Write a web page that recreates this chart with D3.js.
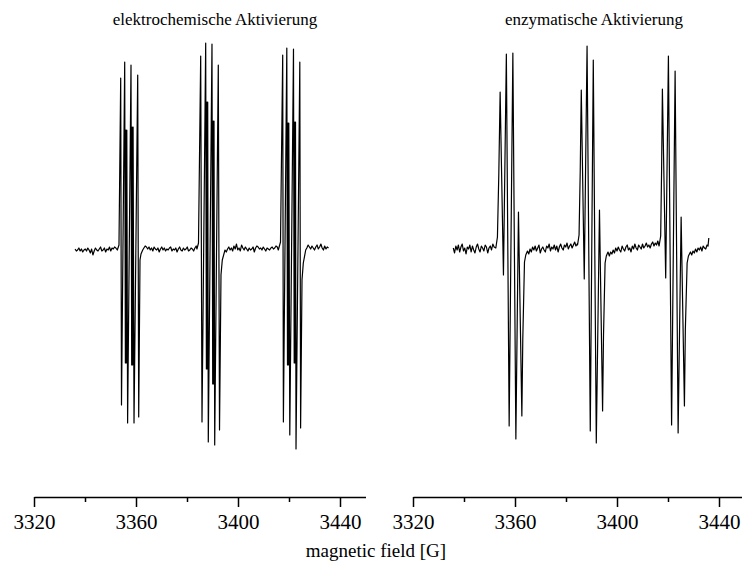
<!DOCTYPE html>
<html>
<head>
<meta charset="utf-8">
<script src="https://cdn.jsdelivr.net/npm/d3@7"></script>
<style>
  body { margin: 0; background: #fff; }
  svg { display: block; }
  text { font-family: "Liberation Serif", "Times New Roman", serif; fill: #000; }
</style>
</head>
<body>
<svg id="chart" width="742" height="565"></svg>
<script>
const panelTitles = ["elektrochemische Aktivierung", "enzymatische Aktivierung"];
const axisTitle = "magnetic field [G]";
const fieldDomain = [3320, 3450];
const majorTicks = [3320, 3360, 3400, 3440];
const minorTicks = [3340, 3380, 3420];
const sampleStep = 0.5; // G between baseline samples

const leftBaseline = [
    { start: 3336.1, values: [1, -1, 0, 2, -1, 1, -2, 0, 1, -1, 2, 0, -3, 1, -5, -1, 2, 0, -1, 1, 3, -1, 0, 2, -2, 1, 0, 3, -1, 2, 1, 3, 2] },
    { start: 3363.1, values: [2, 4, 3, 1, 3, 0, 2, -1, 3, 1, 0, 2, -2, 1, 3, 0, 2, -1, 1, 0, 2, 3, -1, 1, 0, 2, -2, 1, 3, 0, -1, 2, 0, 1, 3, -1, 0, 2, 1, -1, 2, 4] },
    { start: 3395.4, values: [-2, 1, 3, 0, 2, -1, 4, 1, 6, 0, 2, -1, 5, 2, 0, 3, 1, -1, 2, 0, 1, 3, -2, 2, 4, 3, 1, 2, 0, 3, 1, -1, 2, 1, 0, 2, 3, 1, 2, 4, 3] },
    { start: 3427.0, values: [2, 5, 3, 1, 4, 2, 0, 3, 5, 1, 3, 6, 2, 0, 4, 1, 3, 2] }
];

// hyperfine lines, [field G, intensity]
const leftLines = [
    [3352.67, 0], [3353.33, 5], [3354.00, 172], [3354.31, -155], [3355.57, 188], [3355.84, -113], [3355.99, 120],
    [3356.18, -113], [3356.39, 120], [3356.71, -173], [3358.04, 185], [3358.31, -115], [3358.47, 123], [3358.67, -115],
    [3358.86, 123], [3359.22, -173], [3360.67, 175], [3361.06, -167], [3361.57, -10], [3361.96, -4], [3362.63, 0],

    [3383.90, 1], [3384.51, 7], [3385.37, 194], [3385.88, -172], [3387.33, 207], [3387.61, -119], [3387.76, 148],
    [3387.96, -119], [3388.12, 148], [3388.35, -192], [3389.80, 206], [3390.08, -134], [3390.24, 129], [3390.43, -134],
    [3390.59, 129], [3390.86, -195], [3392.27, 185], [3392.75, -180], [3393.33, -25], [3393.84, -10], [3394.90, 0],

    [3415.80, 0], [3416.67, 8], [3417.53, 195], [3417.80, -172], [3419.14, 202], [3419.41, -115], [3419.57, 127],
    [3419.76, -115], [3419.92, 127], [3420.31, -185], [3421.76, 201], [3422.04, -113], [3422.20, 128], [3422.39, -113],
    [3422.55, 128], [3422.75, -199], [3424.24, 188], [3424.55, -178], [3425.10, -30], [3425.61, -13], [3426.55, 0]
];

const rightBaseline = [
    { start: 3335.8, values: [2, -3, 4, 0, 5, -2, 3, 6, -1, 2, -4, 3, 1, 5, -2, 4, 0, -3, 3, 6, 1, -2, 4, 2, -1, 5, 3, -3, 2, 4, 0, 6, 3] },
    { start: 3365.4, values: [-4, 1, -2, 3, 0, 4, -1, 2, 5, -3, 1, 3, 0, -2, 4, 2, 6, -1, 3, 1, 5, 0, 4, -2, 3, 6, 2, 0, 5, 3, 7, 1, 4, 6, 2, 5, 8, 4, 6] },
    { start: 3397.0, values: [-6, -2, -4, 0, -3, 2, -1, 3, 0, -2, 4, 1, -1, 3, 5, 0, 2, -2, 4, 1, 6, 2, 0, 5, 3, 1, 6, 2, 4, 7, 3, 5, 2, 6, 8, 4, 7, 5, 9] },
    { start: 3429.3, values: [-5, -1, -3, 1, -2, 2, 0, 3, -1, 4, 2, 1, 5] }
];

const rightLines = [
    [3352.48, 2], [3353.11, 13], [3353.66, 77], [3354.17, 158], [3355.47, -25], [3356.61, 196], [3357.71, -176],
    [3359.16, 197], [3360.34, -189], [3361.36, 38], [3362.69, -166], [3363.05, -90], [3363.72, -12], [3364.23, -5], [3364.89, -1],

    [3384.53, 5], [3385.12, 15], [3385.59, 80], [3385.99, 160], [3387.16, -29], [3388.26, 204], [3389.52, -181],
    [3390.70, 190], [3391.88, -193], [3393.13, 40], [3394.35, -161], [3394.71, -85], [3395.33, -13], [3395.81, -6], [3396.47, -2],

    [3416.50, 4], [3417.13, 14], [3417.49, 80], [3417.80, 161], [3419.10, -28], [3420.16, 194], [3421.41, -175],
    [3422.79, 179], [3423.97, -183], [3425.15, 33], [3426.44, -156], [3426.80, -80], [3427.50, -13], [3428.01, -6], [3428.80, -2],
    [3435.70, 4], [3436.00, 12]
];

document.addEventListener('DOMContentLoaded', function() {
    const svg = d3.select("#chart");

    const axisY = 497;
    const panelWidth = 331.5;
    const y = d3.scaleLinear().domain([-215, 215]).range([465, 35]);

    const panels = [
        { title: panelTitles[0], base: leftBaseline, lines: leftLines, left: 34, titleX: 215 },
        { title: panelTitles[1], base: rightBaseline, lines: rightLines, left: 413, titleX: 594 }
    ];

    function toSeries(base, lines) {
        const pts = [];
        base.forEach(seg => seg.values.forEach((v, i) => pts.push([seg.start + i * sampleStep, v])));
        lines.forEach(p => pts.push(p));
        return pts.sort((a, b) => a[0] - b[0]);
    }

    panels.forEach(p => {
        const x = d3.scaleLinear().domain(fieldDomain).range([p.left, p.left + panelWidth]);

        const line = d3.line().x(d => x(d[0])).y(d => y(d[1]));

        svg.append("path")
            .datum(toSeries(p.base, p.lines))
            .attr("fill", "none")
            .attr("stroke", "#000")
            .attr("stroke-width", 1.2)
            .attr("stroke-linejoin", "round")
            .attr("d", line);

        svg.append("text")
            .attr("x", p.titleX)
            .attr("y", 25)
            .attr("text-anchor", "middle")
            .attr("font-size", 17)
            .text(p.title);

        const minor = svg.append("g")
            .attr("transform", `translate(0,${axisY})`)
            .call(d3.axisBottom(x).tickValues(minorTicks).tickSize(5).tickSizeOuter(0).tickFormat(""));
        minor.select(".domain").remove();

        const major = svg.append("g")
            .attr("transform", `translate(0,${axisY})`)
            .call(d3.axisBottom(x).tickValues(majorTicks).tickSize(10).tickSizeOuter(0).tickPadding(7).tickFormat(d3.format("d")));

        svg.selectAll(".tick line, .domain").attr("stroke", "#000").attr("stroke-width", 1.5);
        major.selectAll("text")
            .attr("font-family", "Liberation Serif, serif")
            .attr("font-size", 21)
            .attr("fill", "#000");
    });

    svg.append("text")
        .attr("x", 376)
        .attr("y", 557)
        .attr("text-anchor", "middle")
        .attr("font-size", 19)
        .text(axisTitle);
});
</script>
</body>
</html>
